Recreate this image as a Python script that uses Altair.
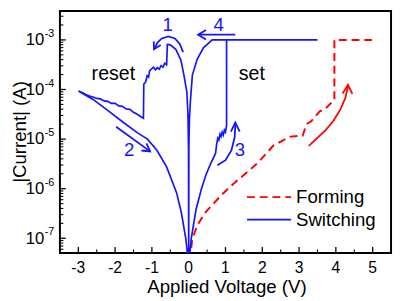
import altair as alt
import pandas as pd

FONT = "Liberation Sans"
BLUE = "#1414ff"
RED = "#ff0000"

# ---------------- data ----------------
# Switching sweep, in sweep order (V in volts, log10 of |I| in A)
sw_V = [0.0, -0.005, -0.02, -0.05, -0.13, -0.21, -0.35, -0.5, -0.58,
        -0.6, -0.65, -0.7, -0.75, -0.8, -0.85, -0.9, -0.96, -1.0, -1.06, -1.09, -1.13, -1.17, -1.22,
        -1.23, -1.3, -1.4, -1.5, -1.6, -1.7, -1.8, -1.9, -2.0, -2.1, -2.2, -2.3, -2.4, -2.5, -2.6, -2.7, -2.8, -2.9, -3.0,
        -2.6, -2.2, -1.8, -1.4, -1.12, -0.86, -0.6, -0.33, -0.2, -0.08, -0.02, 0.0,
        0.02, 0.07, 0.2, 0.34, 0.47, 0.6, 0.73, 0.76, 0.79, 0.82, 0.85, 0.88, 0.91, 0.94, 0.97, 1.0, 1.03,
        1.03, 3.5, 0.64, 0.4, 0.23, 0.1, 0.05, 0.02, 0.005, 0.0]
sw_logI = [-7.6, -5.2, -4.5, -4.05, -3.71, -3.41, -3.19, -3.1, -3.09,
           -3.5, -3.47, -3.55, -3.52, -3.59, -3.56, -3.6, -3.55, -3.58, -3.62, -3.75, -3.72, -3.85, -3.89,
           -4.58, -4.55, -4.5, -4.46, -4.4, -4.39, -4.34, -4.33, -4.28, -4.28, -4.24, -4.23, -4.19, -4.18, -4.15, -4.13, -4.1, -4.06, -4.03,
           -4.2, -4.42, -4.65, -4.87, -5.0, -5.23, -5.56, -6.08, -6.48, -7.0, -7.4, -7.6,
           -7.4, -7.0, -6.42, -6.02, -5.72, -5.49, -5.29, -5.1, -4.98, -5.02, -4.9, -4.95, -4.86, -4.92, -4.82, -4.86, -4.73,
           -3.0, -3.0, -3.0, -3.16, -3.39, -3.71, -4.2, -4.6, -5.2, -7.6]

# Forming sweep
form_V = [0.03, 0.1, 0.25, 0.45, 0.7, 0.9, 1.1, 1.33, 1.6, 1.86, 2.1, 2.3, 2.5, 2.77, 3.1, 3.2, 3.33,
          3.56, 3.7, 3.9, 3.96, 3.96, 5.0]
form_logI = [-7.45, -7.0, -6.72, -6.48, -6.28, -6.12, -5.98, -5.83, -5.66, -5.49, -5.3, -5.13, -5.05,
             -4.95, -4.93, -4.7, -4.64, -4.44, -4.4, -4.25, -4.22, -3.0, -3.0]

# Annotation arrows (V, log10 I)
arrow_paths = {
    "a1": ([-0.152, -0.242, -0.375, -0.551, -0.730, -0.844, -0.943],
           [-3.248, -3.083, -2.970, -2.931, -2.970, -3.050, -3.188]),
    "a1h": ([-0.761, -0.943, -0.950], [-3.103, -3.188, -3.030]),
    "a4": ([1.267, 0.256], [-2.895, -2.895]),
    "a4h": ([0.469, 0.256, 0.469], [-2.802, -2.895, -2.992]),
    "a2": ([-1.973, -1.049], [-4.752, -5.248]),
    "a2h": ([-1.148, -1.049, -1.286], [-5.085, -5.248, -5.230]),
    "a3": ([0.780, 1.001, 1.161, 1.249, 1.267, 1.267], [-5.525, -5.426, -5.228, -4.964, -4.733, -4.667]),
    "a3h": ([1.148, 1.267, 1.387], [-4.851, -4.667, -4.851]),
}
red_arrow_paths = {
    "r": ([3.264, 3.709, 3.930, 4.124, 4.257, 4.329, 4.329],
          [-5.135, -4.832, -4.634, -4.402, -4.172, -3.941, -3.907]),
    "rh": ([4.183, 4.329, 4.449], [-4.079, -3.907, -4.089]),
}
num_text = ["1", "2", "3", "4"]
num_V = [-0.57, -1.621, 1.392, 0.815]
num_logI = [-2.812, -5.347, -5.347, -2.812]
word_text = ["reset", "set"]
word_V = [-2.047, 1.715]
word_logI = [-3.802, -3.802]

x_major = [-3, -2, -1, 0, 1, 2, 3, 4, 5]
x_minor = [-3.5, -2.5, -1.5, -0.5, 0.5, 1.5, 2.5, 3.5, 4.5, 5.5]
y_exp = [-7, -6, -5, -4, -3]
y_minor_mult = [2, 3, 4, 5, 6, 7, 8, 9]
legend_labels = ["Forming", "Switching"]

# ---------------- scales ----------------
YMIN, YMAX = 5.06e-8, 3.83e-3
xs = alt.Scale(domain=[-3.5, 5.5], nice=False, zero=False)
ys = alt.Scale(type="log", domain=[YMIN, YMAX], nice=False)
X = lambda f: alt.X(f, type="quantitative", scale=xs, axis=None)
Y = lambda f: alt.Y(f, type="quantitative", scale=ys, axis=None)

sw = pd.DataFrame({"V": sw_V, "I": [10 ** v for v in sw_logI], "k": range(len(sw_V))})
fm = pd.DataFrame({"V": form_V, "I": [10 ** v for v in form_logI], "k": range(len(form_V))})


def paths_df(d):
    rows = []
    for key, (vv, ll) in d.items():
        for i, (v, l) in enumerate(zip(vv, ll)):
            rows.append({"id": key, "V": v, "I": 10 ** l, "k": i})
    return pd.DataFrame(rows)


arr = paths_df(arrow_paths)
rarr = paths_df(red_arrow_paths)

switch_line = alt.Chart(sw).mark_line(color=BLUE, strokeWidth=1.7, clip=True).encode(
    x=X("V"), y=Y("I"), order=alt.Order("k:Q"))
form_line = alt.Chart(fm).mark_line(color=RED, strokeWidth=2, strokeDash=[8, 5], clip=True).encode(
    x=X("V"), y=Y("I"), order=alt.Order("k:Q"))
arrows = alt.Chart(arr).mark_line(color=BLUE, strokeWidth=1.8).encode(
    x=X("V"), y=Y("I"), detail="id:N", order=alt.Order("k:Q"))
red_arrows = alt.Chart(rarr).mark_line(color=RED, strokeWidth=1.8).encode(
    x=X("V"), y=Y("I"), detail="id:N", order=alt.Order("k:Q"))

nums = alt.Chart(pd.DataFrame({"t": num_text, "V": num_V, "I": [10 ** v for v in num_logI]})).mark_text(
    font=FONT, fontSize=19, color=BLUE, align="center", baseline="alphabetic").encode(
    x=X("V"), y=Y("I"), text="t:N")
words = alt.Chart(pd.DataFrame({"t": word_text, "V": word_V, "I": [10 ** v for v in word_logI]})).mark_text(
    font=FONT, fontSize=20, color="black", align="center", baseline="alphabetic").encode(
    x=X("V"), y=Y("I"), text="t:N")

# ticks (inward)
y_major_df = pd.DataFrame({"I": [10.0 ** e for e in y_exp], "e": [str(e) for e in y_exp]})
y_minor_vals = [m * 10.0 ** e for e in range(-8, -2) for m in y_minor_mult]
y_minor_df = pd.DataFrame({"I": [v for v in y_minor_vals if YMIN <= v <= YMAX]})
yt_major = alt.Chart(y_major_df).mark_rule(color="black", strokeWidth=1.3).encode(
    y=Y("I"), x=alt.value(0), x2=alt.value(6))
yt_minor = alt.Chart(y_minor_df).mark_rule(color="black", strokeWidth=1.1).encode(
    y=Y("I"), x=alt.value(0), x2=alt.value(3.5))
xt_major = alt.Chart(pd.DataFrame({"V": x_major})).mark_rule(color="black", strokeWidth=1.3).encode(
    x=X("V"), y=alt.value(247), y2=alt.value(241))
xt_minor = alt.Chart(pd.DataFrame({"V": x_minor})).mark_rule(color="black", strokeWidth=1.1).encode(
    x=X("V"), y=alt.value(247), y2=alt.value(243.5))

# tick labels
y_ten = alt.Chart(y_major_df).mark_text(font=FONT, fontSize=17, align="right", baseline="alphabetic",
                                        dy=5.5, text="10").encode(y=Y("I"), x=alt.value(-16))
y_sup = alt.Chart(y_major_df).mark_text(font=FONT, fontSize=11, align="left", baseline="alphabetic",
                                        dy=-3).encode(y=Y("I"), x=alt.value(-15.5), text="e:N")
x_lab = alt.Chart(pd.DataFrame({"V": x_major, "t": [str(v) for v in x_major]})).mark_text(
    font=FONT, fontSize=16, align="center", baseline="alphabetic").encode(
    x=X("V"), y=alt.value(267), text="t:N")

one = pd.DataFrame({"a": [0]})
x_title = alt.Chart(one).mark_text(font=FONT, fontSize=19, align="center", baseline="alphabetic",
                                   text="Applied Voltage (V)").encode(x=alt.value(170.5), y=alt.value(288))
y_title = alt.Chart(one).mark_text(font=FONT, fontSize=19, align="center", baseline="alphabetic",
                                   angle=270, text="|Current| (A)").encode(x=alt.value(-35), y=alt.value(123.5))

# legend
leg_form = alt.Chart(one).mark_rule(color=RED, strokeWidth=2, strokeDash=[8, 5]).encode(
    x=alt.value(191), x2=alt.value(236), y=alt.value(190))
leg_sw = alt.Chart(one).mark_rule(color=BLUE, strokeWidth=1.7).encode(
    x=alt.value(191), x2=alt.value(236), y=alt.value(213))
leg_text = alt.Chart(pd.DataFrame({"t": legend_labels, "yy": [196, 219]})).mark_text(
    font=FONT, fontSize=19, align="left", baseline="alphabetic", color="black").encode(
    x=alt.value(241), y=alt.Y("yy:Q", scale=None, axis=None), text="t:N")

chart = alt.layer(
    yt_minor, yt_major, xt_minor, xt_major,
    form_line, switch_line, arrows, red_arrows, nums, words,
    y_ten, y_sup, x_lab, x_title, y_title, leg_form, leg_sw, leg_text,
).properties(
    width=338, height=247,
    autosize=alt.AutoSizeParams(type="none"),
    padding={"left": 53, "top": 0, "right": 2, "bottom": 46},
).configure_view(stroke="black", strokeWidth=2)

chart.save("out.html", embed_options={"renderer": "svg", "actions": False})
